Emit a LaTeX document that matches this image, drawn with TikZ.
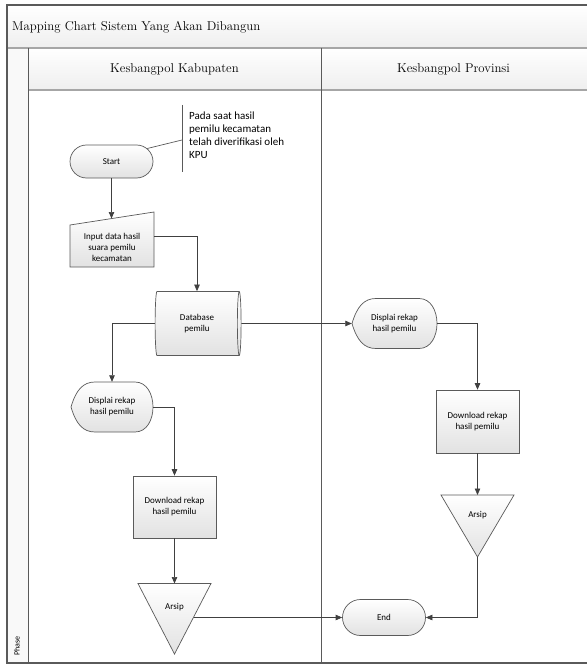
\documentclass[tikz,border=0pt]{standalone}
\usepackage{fontspec}
\newfontfamily\carl{Carlito}
\usetikzlibrary{shapes.geometric,shapes.misc,arrows.meta,calc}
\definecolor{edge}{HTML}{5A5A5A}
\definecolor{linec}{HTML}{404040}
\definecolor{bandline}{HTML}{A6A6A6}
\definecolor{shfill}{HTML}{E2E2E2}
\newcommand\dispshape[4]{%
  \path[shapebox] (#1-#3/2,#2)
    .. controls (#1-#3/2+5,#2-#4/2+8) and (#1-#3/2+12,#2-#4/2) .. (#1-#3/2+24,#2-#4/2)
    -- (#1+#3/2-18,#2-#4/2)
    .. controls (#1+#3/2-6,#2-#4/2) and (#1+#3/2,#2-#4/4) .. (#1+#3/2,#2)
    .. controls (#1+#3/2,#2+#4/4) and (#1+#3/2-6,#2+#4/2) .. (#1+#3/2-18,#2+#4/2)
    -- (#1-#3/2+24,#2+#4/2)
    .. controls (#1-#3/2+12,#2+#4/2) and (#1-#3/2+5,#2+#4/2-8) .. cycle;}
\begin{document}
\begin{tikzpicture}[x=1pt,y=-1pt,
  shapebox/.style={draw=edge,line width=0.7pt,top color=white,bottom color=shfill},
  txt/.style={font=\carl\fontsize{9}{11}\selectfont,align=center,inner sep=0pt},
  term/.style={rounded rectangle,shapebox,txt,minimum width=83pt,minimum height=33pt},
  procbox/.style={rectangle,shapebox,txt,minimum width=83pt,minimum height=62pt},
  dispnode/.style={txt,minimum width=82pt,minimum height=50pt},
  arr/.style={draw=linec,line width=0.7pt,-{Triangle[length=6.5pt,width=5.5pt]}},
  lanetxt/.style={font=\fontsize{12.8}{14}\selectfont,inner sep=0pt}]
\useasboundingbox (0,0) rectangle (586,666);
% frame and bands
\path[top color=white,bottom color=gray!13] (7,5) rectangle (592,48);
\path[top color=white,bottom color=gray!13] (28,48) rectangle (592,90);
\path[fill=gray!5] (7,48) rectangle (28,663);
\draw[bandline,line width=1.5pt] (7,48) -- (592,48);
\draw[bandline,line width=1.5pt] (28,90) -- (592,90);
\draw[edge,line width=0.7pt] (28,48) -- (28,663);
\draw[edge,line width=0.8pt] (321,48) -- (321,663);
\draw[edge,line width=1.2pt] (592,5) -- (7,5) -- (7,663) -- (592,663);
\node[lanetxt,anchor=west] (title) at (12,27) {Mapping Chart Sistem Yang Akan Dibangun};
\node[lanetxt] (lane1) at (174.5,69) {Kesbangpol Kabupaten};
\node[lanetxt] (lane2) at (453.5,69) {Kesbangpol Provinsi};
\node[rotate=90,font=\carl\fontsize{8}{9}\selectfont,inner sep=0pt] (phase) at (17,646) {Phase};
% start and note
\node[term] (st) at (111.5,161.5) {Start};
\coordinate (annTop) at (182,105);
\coordinate (annBot) at (182,172);
\coordinate (ann) at (182,140);
\draw[edge,line width=0.7pt] (annTop) -- (annBot);
\draw[edge,line width=0.7pt] (st.20) -- (ann);
\node[anchor=north west,align=left,font=\carl\fontsize{11}{13}\selectfont,inner sep=0pt] (note) at (189,112)
  {Pada saat hasil\\pemilu kecamatan\\telah diverifikasi oleh\\KPU};
% manual input
\path[shapebox] (70,225) -- (154,212) -- (154,267) -- (70,267) -- cycle;
\node[txt,minimum width=84pt] (inp) at (112,247) {Input data hasil\\suara pemilu\\kecamatan};
\coordinate (inpTop) at (111.5,218.5);
\coordinate (inpR) at (154,236);
% database
\node[cylinder,shape border rotate=0,aspect=0.2,shapebox,txt,minimum width=64pt,minimum height=86pt] (db) at (197,323.5) {Database\\pemilu};
% displays
\dispshape{112}{407}{82}{50}
\node[dispnode] (dk) at (112,407) {Displai rekap\\hasil pemilu};
\dispshape{394.5}{323.5}{85}{50}
\node[dispnode,minimum width=85pt] (dp) at (394.5,323.5) {Displai rekap\\hasil pemilu};
% downloads
\node[procbox] (dlk) at (174.5,507) {Download rekap\\hasil pemilu};
\node[procbox,minimum height=63pt] (dlp) at (477.5,421.5) {Download rekap\\hasil pemilu};
% archives
\path[shapebox] (138,583.5) -- (211,583.5) -- (174.5,654) -- cycle;
\node[txt] (ak) at (174.5,607) {Arsip};
\coordinate (akTop) at (174.5,583.5);
\coordinate (akR) at (193.7,617.5);
\path[shapebox] (441,495) -- (514,495) -- (477.5,557) -- cycle;
\node[txt] (ap) at (477.5,515) {Arsip};
\coordinate (apTop) at (477.5,495);
\coordinate (apBot) at (477.5,557);
% end
\node[term,minimum height=36pt] (en) at (384,617.5) {End};
% connectors
\draw[arr] (st.south) -- (inpTop);
\draw[arr] (inpR) -| (db.north);
\draw[arr] (db.east) -- (dp.west);
\draw[arr] (db.west) -| (dk.north);
\draw[arr] (dk.east) -| (dlk.north);
\draw[arr] (dp.east) -| (dlp.north);
\draw[arr] (dlk.south) -- (akTop);
\draw[arr] (dlp.south) -- (apTop);
\draw[arr] (akR) -- (en.west);
\draw[arr] (apBot) |- (en.east);
\end{tikzpicture}
\end{document}
